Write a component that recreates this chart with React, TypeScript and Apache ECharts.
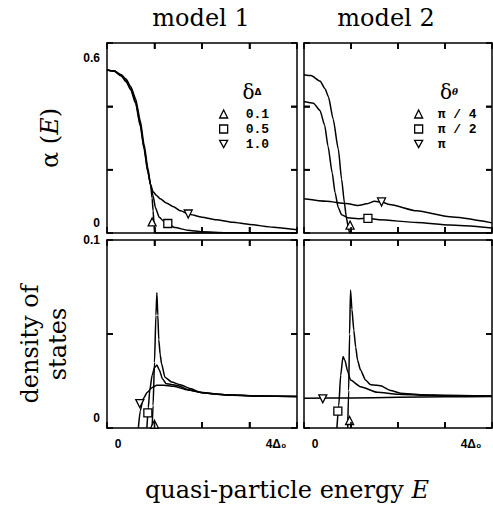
import React, { useEffect, useRef } from 'react';
import * as echarts from 'echarts';

// ---------- tick labels ----------
const xTickLabels = ['0', '', '', '', '4Δ₀'];
const alphaTickLabels = ['0', '', '', '0.6'];
const dosTickLabels = ['0', '', '0.1'];

// ---------- frame tick positions (data units) ----------
const xTickValues = [1, 2, 3];
const alphaTickValues = [0.2, 0.4];
const dosTickValues = [0.05];

// ---------- legend names ----------
const model1Names = ['0.1', '0.5', '1.0'];
const model2Names = ['π / 4', 'π / 2', 'π'];

// ---------- α(E), model 1 (δΔ = 0.1, 0.5, 1.0) ----------
const alpha1_d01: [number, number][] = [
  [0, 0.515], [0.15, 0.512], [0.3, 0.5], [0.4, 0.486], [0.5, 0.463], [0.6, 0.425], [0.7, 0.355],
  [0.78, 0.28], [0.86, 0.205], [0.92, 0.15], [0.95, 0.11], [0.97, 0.07], [0.99, 0.03], [1.01, 0], [4, 0],
];
const alpha1_d05: [number, number][] = [
  [0, 0.515], [0.15, 0.512], [0.3, 0.498], [0.4, 0.482], [0.5, 0.457], [0.6, 0.417], [0.7, 0.345],
  [0.78, 0.27], [0.86, 0.195], [0.92, 0.15], [0.97, 0.118], [1.02, 0.08], [1.1, 0.05], [1.2, 0.036],
  [1.28, 0.03], [1.43, 0.017], [1.7, 0.009], [2.0, 0.004], [2.5, 0.001], [4, 0],
];
const alpha1_d10: [number, number][] = [
  [0, 0.515], [0.15, 0.511], [0.3, 0.496], [0.4, 0.478], [0.5, 0.452], [0.6, 0.41], [0.7, 0.338],
  [0.78, 0.265], [0.86, 0.192], [0.92, 0.152], [0.97, 0.13], [1.05, 0.118], [1.12, 0.108], [1.25, 0.095],
  [1.4, 0.083], [1.55, 0.07], [1.71, 0.06], [2.0, 0.05], [2.3, 0.042], [2.65, 0.034], [3.0, 0.027],
  [3.5, 0.018], [4, 0.01],
];
const alpha1Markers: [number, number][] = [[0.95, 0.035], [1.28, 0.03], [1.71, 0.06]];

// ---------- α(E), model 2 (δθ = π/4, π/2, π) ----------
const alpha2_p4: [number, number][] = [
  [0, 0.5], [0.15, 0.497], [0.34, 0.48], [0.45, 0.455], [0.52, 0.43], [0.62, 0.36], [0.73, 0.265],
  [0.8, 0.17], [0.86, 0.095], [0.9, 0.05], [0.94, 0.02], [0.97, 0], [4, 0],
];
const alpha2_p2: [number, number][] = [
  [0, 0.415], [0.2, 0.41], [0.34, 0.387], [0.44, 0.34], [0.51, 0.275], [0.6, 0.19], [0.66, 0.128],
  [0.73, 0.08], [0.8, 0.058], [0.93, 0.048], [1.15, 0.045], [1.36, 0.046], [1.6, 0.042], [2.4, 0.033],
  [3.1, 0.025], [4, 0.016],
];
const alpha2_pi: [number, number][] = [
  [0, 0.108], [0.48, 0.1], [0.9, 0.093], [1.15, 0.087], [1.33, 0.092], [1.5, 0.1], [1.65, 0.098],
  [1.82, 0.09], [2.4, 0.07], [3.1, 0.051], [4, 0.032],
];
const alpha2Markers: [number, number][] = [[0.98, 0.025], [1.36, 0.046], [1.65, 0.098]];

// ---------- density of states, model 1 ----------
const dos1_d01: [number, number][] = [
  [0.95, 0], [0.97, 0.012], [1.0, 0.035], [1.03, 0.06], [1.05, 0.072], [1.07, 0.06], [1.09, 0.047],
  [1.12, 0.039], [1.15, 0.034], [1.22, 0.027], [1.36, 0.0245], [1.54, 0.023], [1.75, 0.021],
  [1.96, 0.019], [2.3, 0.018], [2.65, 0.0175], [3.2, 0.017], [4, 0.0168],
];
const dos1_d05: [number, number][] = [
  [0.84, 0], [0.87, 0.011], [0.9, 0.02], [0.95, 0.028], [1.0, 0.032], [1.05, 0.0335], [1.1, 0.031],
  [1.17, 0.026], [1.25, 0.0235], [1.35, 0.0232], [1.5, 0.0225], [1.7, 0.0205], [2.0, 0.0188],
  [2.5, 0.0176], [3.2, 0.017], [4, 0.0168],
];
const dos1_d10: [number, number][] = [
  [0.66, 0], [0.7, 0.009], [0.76, 0.0155], [0.85, 0.019], [0.95, 0.0215], [1.05, 0.0228], [1.2, 0.0228],
  [1.4, 0.0222], [1.7, 0.0202], [2.0, 0.0188], [2.5, 0.0177], [3.2, 0.017], [4, 0.0168],
];
const dos1Markers: [number, number][] = [[1.0, 0.002], [0.86, 0.008], [0.69, 0.013]];

// ---------- density of states, model 2 ----------
const dos2_p4: [number, number][] = [
  [0.93, 0], [0.95, 0.02], [0.97, 0.05], [0.99, 0.0734], [1.02, 0.063], [1.06, 0.052], [1.1, 0.043],
  [1.14, 0.036], [1.2, 0.031], [1.31, 0.0255], [1.42, 0.023], [1.55, 0.0228], [1.63, 0.0225],
  [1.84, 0.02], [2.05, 0.0185], [2.5, 0.0177], [3, 0.0173], [4, 0.017],
];
const dos2_p2: [number, number][] = [
  [0.7, 0], [0.74, 0.012], [0.78, 0.028], [0.83, 0.038], [0.87, 0.036], [0.93, 0.03], [0.99, 0.0255],
  [1.2, 0.022], [1.56, 0.019], [2.0, 0.018], [2.6, 0.0174], [4, 0.017],
];
const dos2_pi: [number, number][] = [[0, 0.0158], [1, 0.016], [2, 0.0163], [3, 0.0166], [4, 0.0168]];
const dos2Markers: [number, number][] = [[0.97, 0.004], [0.72, 0.009], [0.4, 0.0155]];

const markerSymbols = ['triangle', 'rect', 'path://M0,0L10,0L5,9Z'];

const SERIF = 'DejaVu Serif';
const SANS = 'Liberation Sans';
const TICK_LEN = 6;
const X_MAX = 4;

export default function App() {
  const ref = useRef<HTMLDivElement>(null);

  useEffect(() => {
    if (!ref.current) return;
    const chart = echarts.init(ref.current, undefined, { renderer: 'svg' });

    const grids = [
      { left: 107, top: 43, width: 190, height: 190 },
      { left: 304, top: 43, width: 188, height: 190 },
      { left: 107, top: 240, width: 190, height: 188 },
      { left: 304, top: 240, width: 188, height: 188 },
    ];
    const yMaxes = [0.6, 0.6, 0.1, 0.1];
    const yTickSets = [alphaTickValues, alphaTickValues, dosTickValues, dosTickValues];

    const makeLine = () => ({ show: true, onZero: false, lineStyle: { color: '#000', width: 1.5 } });
    const makeTick = () => ({ show: true, inside: true, length: TICK_LEN, lineStyle: { color: '#000', width: 1.6 } });

    const xLabel = () => ({
      show: true,
      margin: 10,
      color: '#000',
      fontFamily: SANS,
      fontWeight: 'bold' as const,
      fontSize: 12,
      formatter: (_v: number, i: number) => {
        const t = xTickLabels[i];
        if (!t) return '';
        return i === 0 ? `{lo|${t}}` : `{hi|${t}}`;
      },
      rich: {
        lo: { fontFamily: SANS, fontWeight: 'bold', fontSize: 12, color: '#000', padding: [0, 0, 0, 22] },
        hi: { fontFamily: SANS, fontWeight: 'bold', fontSize: 12, color: '#000', padding: [0, 42, 0, 0] },
      },
    });

    const xAxes: any[] = [];
    grids.forEach((_, gi) => {
      xAxes.push({
        type: 'value', gridIndex: gi, min: 0, max: X_MAX, interval: 1, position: 'bottom',
        axisLine: makeLine(), axisTick: makeTick(), splitLine: { show: false },
        axisLabel: gi >= 2 ? xLabel() : { show: false },
      });
    });
    grids.forEach((_, gi) => {
      xAxes.push({
        type: 'value', gridIndex: gi, min: 0, max: X_MAX, interval: 1, position: 'top',
        axisLine: makeLine(), axisTick: makeTick(), splitLine: { show: false }, axisLabel: { show: false },
      });
    });

    const yLabel = (labels: string[], hiPad: number) => ({
      show: true,
      margin: 7,
      color: '#000',
      fontFamily: SANS,
      fontWeight: 'bold' as const,
      fontSize: 12,
      formatter: (_v: number, i: number) => {
        const t = labels[i];
        if (!t) return '';
        return i === 0 ? `{lo|${t}}` : `{hi|${t}}`;
      },
      rich: {
        lo: { fontFamily: SANS, fontWeight: 'bold', fontSize: 12, color: '#000', padding: [0, 0, 20, 0] },
        hi: { fontFamily: SANS, fontWeight: 'bold', fontSize: 12, color: '#000', padding: [hiPad, 0, 0, 0] },
      },
    });

    const yAxes: any[] = [];
    grids.forEach((_, gi) => {
      const top = gi < 2;
      const y: any = {
        type: 'value', gridIndex: gi, min: 0, max: yMaxes[gi], interval: top ? 0.2 : 0.05,
        position: 'left',
        axisLine: makeLine(), axisTick: makeTick(), splitLine: { show: false },
        axisLabel: gi === 0 ? yLabel(alphaTickLabels, 30) : gi === 2 ? yLabel(dosTickLabels, 0) : { show: false },
      };
      if (gi === 0) {
        y.name = '{n|α (}{i|E}{n|)}';
        y.nameLocation = 'middle';
        y.nameRotate = 90;
        y.nameGap = 45;
        y.nameTextStyle = {
          rich: {
            n: { fontFamily: SERIF, fontSize: 24, fontWeight: 'normal', color: '#000' },
            i: { fontFamily: SERIF, fontSize: 24, fontWeight: 'normal', fontStyle: 'italic', color: '#000' },
          },
        };
      }
      if (gi === 2) {
        y.name = 'density of\nstates';
        y.nameLocation = 'middle';
        y.nameRotate = 90;
        y.nameGap = 35;
        y.nameTextStyle = { fontFamily: SERIF, fontSize: 24, lineHeight: 28, color: '#000', padding: [0, 20, 0, 0] };
      }
      yAxes.push(y);
    });
    grids.forEach((_, gi) => {
      const top = gi < 2;
      yAxes.push({
        type: 'value', gridIndex: gi, min: 0, max: yMaxes[gi], interval: top ? 0.2 : 0.05,
        position: 'right',
        axisLine: makeLine(), axisTick: makeTick(), splitLine: { show: false }, axisLabel: { show: false },
      });
    });

    const series: any[] = [];
    const panelSeriesIndex: number[] = [];
    const addPanel = (gi: number, curves: [number, number][][], markers: [number, number][], names: string[], label: string) => {
      panelSeriesIndex[gi] = series.length;
      curves.forEach((c, k) => {
        series.push({
          type: 'line', name: `${label} ${names[k]} curve`, xAxisIndex: gi, yAxisIndex: gi,
          data: c, symbol: 'none', smooth: 0.2, smoothMonotone: 'x',
          lineStyle: { color: '#000', width: 1.5 }, z: 2,
        });
      });
      markers.forEach((m, k) => {
        series.push({
          type: 'scatter', name: names[k], xAxisIndex: gi, yAxisIndex: gi,
          data: [m], symbol: markerSymbols[k], symbolSize: 8,
          itemStyle: { color: '#fff', borderColor: '#000', borderWidth: 1.3, opacity: 1 }, z: 3,
        });
      });
    };
    addPanel(0, [alpha1_d01, alpha1_d05, alpha1_d10], alpha1Markers, model1Names, 'alpha model 1');
    addPanel(1, [alpha2_p4, alpha2_p2, alpha2_pi], alpha2Markers, model2Names, 'alpha model 2');
    addPanel(2, [dos1_d01, dos1_d05, dos1_d10], dos1Markers, model1Names, 'dos model 1');
    addPanel(3, [dos2_p4, dos2_p2, dos2_pi], dos2Markers, model2Names, 'dos model 2');

    const legendBase = {
      orient: 'vertical', itemWidth: 8, itemHeight: 8, itemGap: 1, selectedMode: false, padding: 0,
      itemStyle: { color: '#fff', borderColor: '#000', borderWidth: 1.3 },
    };

    const titleStyle = { fontFamily: SERIF, fontSize: 24, fontWeight: 'normal', color: '#000' };

    chart.setOption({
      animation: false,
      backgroundColor: '#fff',
      grid: grids.map((g) => ({ ...g, containLabel: false })),
      xAxis: xAxes,
      yAxis: yAxes,
      series,
      legend: [
        {
          ...legendBase, left: 219, top: 107,
          data: model1Names.map((n, i) => ({ name: n, icon: markerSymbols[i] })),
          textStyle: { fontFamily: 'Liberation Mono', fontWeight: 'bold', fontSize: 13, color: '#000', lineHeight: 14, padding: [0, 0, 0, 13] },
        },
        {
          ...legendBase, left: 414, top: 107,
          data: model2Names.map((n, i) => ({ name: n, icon: markerSymbols[i] })),
          textStyle: { fontFamily: 'Liberation Mono', fontWeight: 'bold', fontSize: 13, color: '#000', lineHeight: 14, padding: [0, 0, 0, 10] },
        },
      ],
      title: [
        { text: 'model 1', left: 201, top: 6, textAlign: 'center', padding: 0, textStyle: titleStyle },
        { text: 'model 2', left: 386, top: 6, textAlign: 'center', padding: 0, textStyle: titleStyle },
        {
          text: '{d|δ}{s|Δ}', left: 252, top: 82, textAlign: 'center', padding: 0,
          textStyle: {
            rich: {
              d: { fontFamily: SERIF, fontSize: 20, fontWeight: 'normal', color: '#000' },
              s: { fontFamily: 'DejaVu Sans', fontSize: 9, fontWeight: 'bold', color: '#000' },
            },
          },
        },
        {
          text: '{d|δ}{s|θ}', left: 449, top: 82, textAlign: 'center', padding: 0,
          textStyle: {
            rich: {
              d: { fontFamily: SERIF, fontSize: 20, fontWeight: 'normal', color: '#000' },
              s: { fontFamily: SERIF, fontSize: 9, fontWeight: 'bold', fontStyle: 'italic', color: '#000' },
            },
          },
        },
        {
          text: '{n|quasi-particle energy }{i|E}', left: 287, top: 478, textAlign: 'center', padding: 0,
          textStyle: {
            fontWeight: 'normal',
            rich: {
              n: { fontFamily: SERIF, fontSize: 24, fontWeight: 'normal', color: '#000' },
              i: { fontFamily: SERIF, fontSize: 24, fontWeight: 'normal', fontStyle: 'italic', color: '#000' },
            },
          },
        },
      ],
    });

    // inward frame ticks on all four sides, placed through each panel's scales
    const tickEls: any[] = [];
    const tickStyle = { stroke: '#000', lineWidth: 1.6, fill: 'none' };
    grids.forEach((_, gi) => {
      const finder = { seriesIndex: panelSeriesIndex[gi] };
      const yMax = yMaxes[gi];
      const bl = chart.convertToPixel(finder, [0, 0]) as number[];
      const tr = chart.convertToPixel(finder, [X_MAX, yMax]) as number[];
      if (!bl || !tr) return;
      xTickValues.forEach((v) => {
        const px = (chart.convertToPixel(finder, [v, 0]) as number[])[0];
        tickEls.push({ type: 'line', silent: true, z: 100, shape: { x1: px, y1: bl[1], x2: px, y2: bl[1] - TICK_LEN }, style: tickStyle });
        tickEls.push({ type: 'line', silent: true, z: 100, shape: { x1: px, y1: tr[1], x2: px, y2: tr[1] + TICK_LEN }, style: tickStyle });
      });
      yTickSets[gi].forEach((v) => {
        const py = (chart.convertToPixel(finder, [0, v]) as number[])[1];
        tickEls.push({ type: 'line', silent: true, z: 100, shape: { x1: bl[0], y1: py, x2: bl[0] + TICK_LEN, y2: py }, style: tickStyle });
        tickEls.push({ type: 'line', silent: true, z: 100, shape: { x1: tr[0], y1: py, x2: tr[0] - TICK_LEN, y2: py }, style: tickStyle });
      });
    });
    chart.setOption({ graphic: { elements: tickEls } });

    return () => chart.dispose();
  }, []);

  return (
    <div
      ref={ref}
      style={{ position: 'absolute', left: 0, top: 0, width: 493, height: 505, background: '#fff' }}
    />
  );
}
